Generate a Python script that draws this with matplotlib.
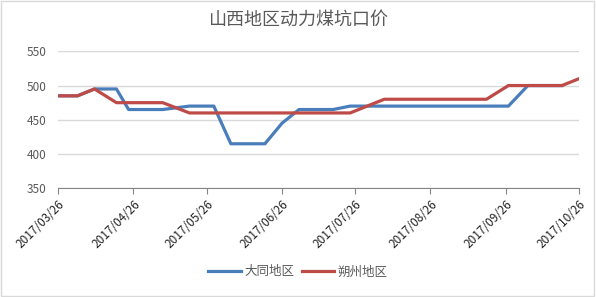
import numpy as np
import pandas as pd
import matplotlib
matplotlib.use("Agg")
from matplotlib import pyplot as plt
import matplotlib.dates as mdates
from matplotlib.patches import Rectangle

plt.rcParams['font.family'] = ['Noto Sans CJK SC', 'DejaVu Sans']

title = "山西地区动力煤坑口价"
series_names = ["大同地区", "朔州地区"]

dates = ["2017-03-26", "2017-04-03", "2017-04-10", "2017-04-19", "2017-04-24",
         "2017-05-01", "2017-05-08", "2017-05-19", "2017-05-29", "2017-06-05",
         "2017-06-12", "2017-06-19", "2017-06-26", "2017-07-03", "2017-07-10",
         "2017-07-17", "2017-07-24", "2017-08-07", "2017-08-14", "2017-08-21",
         "2017-08-28", "2017-09-04", "2017-09-11", "2017-09-18", "2017-09-27",
         "2017-10-05", "2017-10-12", "2017-10-19", "2017-10-26"]

datong = [485, 485, 495, 495, 465,
          465, 465, 470, 470, 415,
          415, 415, 445, 465, 465,
          465, 470, 470, 470, 470,
          470, 470, 470, 470, 470,
          500, 500, 500, np.nan]

shuozhou = [485, 485, 495, 475, 475,
            475, 475, 460, 460, 460,
            460, 460, 460, 460, 460,
            460, 460, 480, 480, 480,
            480, 480, 480, 480, 500,
            500, 500, 500, 510]

tick_dates = ["2017-03-26", "2017-04-26", "2017-05-26", "2017-06-26",
              "2017-07-26", "2017-08-26", "2017-09-26", "2017-10-26"]
tick_labels = ["2017/03/26", "2017/04/26", "2017/05/26", "2017/06/26",
               "2017/07/26", "2017/08/26", "2017/09/26", "2017/10/26"]

x = pd.to_datetime(dates)
ticks = pd.to_datetime(tick_dates)

fig = plt.figure(figsize=(5.96, 2.97), dpi=100)
ax = fig.add_axes([58 / 596, 1 - 188.3 / 297, 521 / 596, 137 / 297])

gray_text = "#595959"
ax.plot(x, datong, color="#4a7ebb", linewidth=2.3, label=series_names[0])
ax.plot(x, shuozhou, color="#be4b48", linewidth=2.3, label=series_names[1])

ax.set_ylim(350, 550)
ax.set_yticks([350, 400, 450, 500, 550])
ax.set_xlim(ticks[0], ticks[-1])
ax.set_xticks(ticks)
ax.set_xticklabels(tick_labels, rotation=45, ha="right", rotation_mode="anchor")

ax.grid(axis="y", color="#d9d9d9", linewidth=1)
ax.set_axisbelow(True)
for side in ["left", "right", "top"]:
    ax.spines[side].set_visible(False)
ax.spines["bottom"].set_color("#868686")
ax.tick_params(axis="y", length=0, pad=8, labelsize=8.5, labelcolor=gray_text)
ax.tick_params(axis="x", length=4, color="#868686", pad=3, labelsize=8.5, labelcolor="#222222")

fig.text(0.5, 1 - 20 / 297, title, ha="center", va="center", fontsize=13, color=gray_text)

fig.legend(loc="center", bbox_to_anchor=(0.5, 1 - 272 / 297), ncol=2, frameon=False,
           fontsize=9, handlelength=2.6, columnspacing=0.6, handletextpad=0.3,
           labelcolor=gray_text)

fig.patches.append(Rectangle((0.002, 0.003), 0.995, 0.993, transform=fig.transFigure,
                             fill=False, edgecolor="#d9d9d9", linewidth=1))

fig.savefig("out.png", dpi=100, facecolor="white")
